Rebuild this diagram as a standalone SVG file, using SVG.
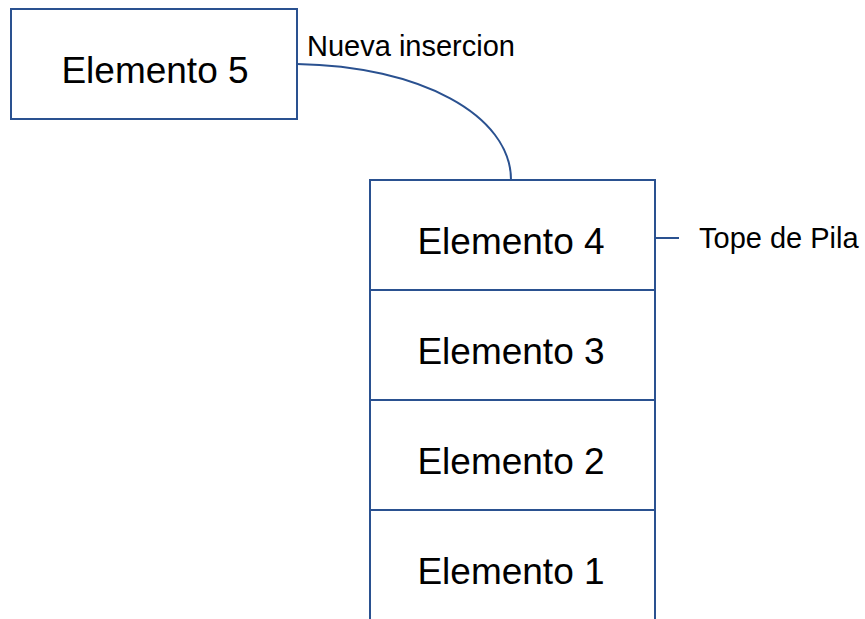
<svg xmlns="http://www.w3.org/2000/svg" width="865" height="619" viewBox="0 0 865 619">
<style>
.box{fill:#ffffff;stroke:#2a5190;stroke-width:2}
.big{font-family:"Liberation Sans",Arial,sans-serif;font-size:37px;fill:#000;text-anchor:middle}
.lbl{font-family:"Liberation Sans",Arial,sans-serif;font-size:29px;fill:#000}
.con{fill:none;stroke:#2a5190;stroke-width:2}
</style>
<rect width="865" height="619" fill="#ffffff"/>
<g id="connectors">
<path class="con" d="M297,64 C420,66 511,115 511,180"/>
<line class="con" x1="656" y1="238" x2="679" y2="238"/>
</g>
<g id="e5">
<rect class="box" x="11" y="9" width="286" height="110"/>
<text class="big" x="155" y="83">Elemento 5</text>
</g>
<g id="e4">
<rect class="box" x="370" y="180" width="285" height="110"/>
<text class="big" x="511" y="254">Elemento 4</text>
</g>
<g id="e3">
<rect class="box" x="370" y="290" width="285" height="110"/>
<text class="big" x="511" y="364">Elemento 3</text>
</g>
<g id="e2">
<rect class="box" x="370" y="400" width="285" height="110"/>
<text class="big" x="511" y="474">Elemento 2</text>
</g>
<g id="e1">
<path class="box" d="M370,625 V510 H655 V625"/>
<text class="big" x="511" y="584">Elemento 1</text>
</g>
<g id="labels">
<text class="lbl" x="307" y="56">Nueva insercion</text>
<text class="lbl" x="699" y="248">Tope de Pila</text>
</g>
</svg>
